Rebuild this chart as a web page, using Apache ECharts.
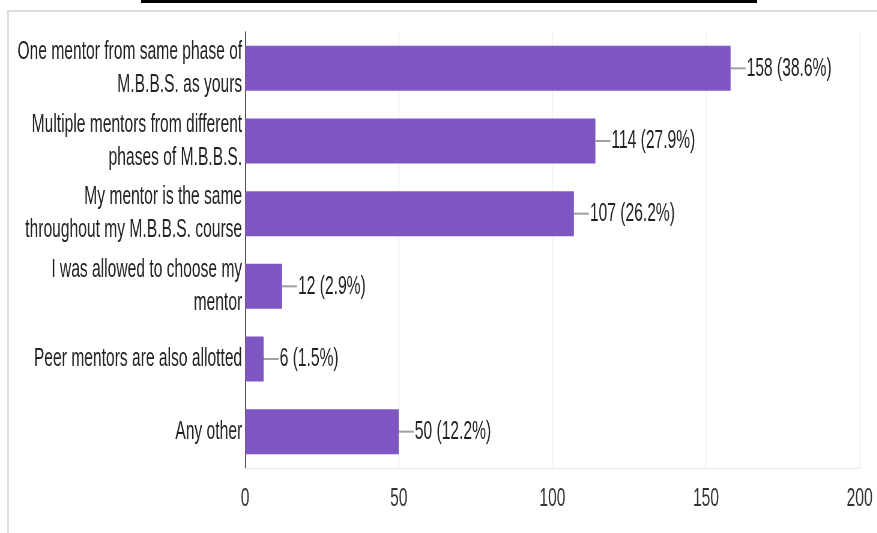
<!DOCTYPE html>
<html>
<head>
<meta charset="utf-8">
<script src="https://cdn.jsdelivr.net/npm/echarts@6/dist/echarts.min.js"></script>
<style>
  html, body { margin: 0; padding: 0; background: #fff; overflow: hidden; }
  #wrap { position: relative; width: 877px; height: 533px; overflow: hidden; }
  #title-rule { position: absolute; left: 141px; top: 0; width: 616px; height: 3px; background: #000; }
  #frame { position: absolute; left: 7px; top: 10px; right: -4px; bottom: -4px;
           border-left: 2px solid #dcdcdc; border-top: 2px solid #dcdcdc; }
  #chart { position: absolute; left: 0; top: 0; height: 533px; transform-origin: 0 0; }
</style>
</head>
<body>
<div id="wrap">
  <div id="title-rule"></div>
  <div id="frame"></div>
  <div id="chart"></div>
</div>
<script>
// Survey answers: how mentors are assigned
const categories = [
  'One mentor from same phase of\nM.B.B.S. as yours',
  'Multiple mentors from different\nphases of M.B.B.S.',
  'My mentor is the same\nthroughout my M.B.B.S. course',
  'I was allowed to choose my\nmentor',
  'Peer mentors are also allotted',
  'Any other'
];
const counts = [158, 114, 107, 12, 6, 50];
const percents = ['38.6', '27.9', '26.2', '2.9', '1.5', '12.2'];
const tickMin = 0, tickMax = 200, tickStep = 50;

// The chart is laid out wide and squeezed horizontally to get the narrow lettering.
const SX = 0.6;
const W = 877 / SX;
const el = document.getElementById('chart');
el.style.width = W + 'px';
el.style.transform = 'scaleX(' + SX + ')';

const FONT = '"Liberation Sans", Arial, sans-serif';
const px = v => v / SX; // screen pixels -> unscaled layout pixels

const chart = echarts.init(el, null, { renderer: 'canvas', width: W, height: 533 });
chart.setOption({
  animation: false,
  backgroundColor: 'transparent',
  textStyle: { fontFamily: FONT },
  grid: { left: px(245), right: W - px(859), top: 32, bottom: 65, containLabel: false },
  xAxis: {
    type: 'value', min: tickMin, max: tickMax, interval: tickStep,
    axisLine: { show: true, lineStyle: { color: '#e6e6e6', width: 1 } },
    axisTick: { show: false },
    splitLine: { show: true, lineStyle: { color: '#f0f0f0', width: px(1) } },
    axisLabel: { color: '#333', fontSize: 26, margin: 18, fontFamily: FONT }
  },
  yAxis: {
    type: 'category', data: categories, inverse: true,
    axisLine: { show: true, lineStyle: { color: '#333', width: px(1) } },
    axisTick: { show: false },
    axisLabel: { color: '#222', fontSize: 26, lineHeight: 33, margin: px(3), align: 'right', fontFamily: FONT }
  },
  series: [{
    type: 'bar',
    data: counts,
    barCategoryGap: '38%',
    itemStyle: { color: '#7E57C2' },
    label: {
      show: true, position: 'right', distance: 0,
      formatter: p => '{l| }{v|' + p.value + ' (' + percents[p.dataIndex] + '%)}',
      rich: {
        l: { width: px(15), height: 2, backgroundColor: '#a0a0a0' },
        v: { fontSize: 26, color: '#222', fontFamily: FONT, padding: [0, 0, 0, px(1)] }
      }
    }
  }]
});
</script>
</body>
</html>
